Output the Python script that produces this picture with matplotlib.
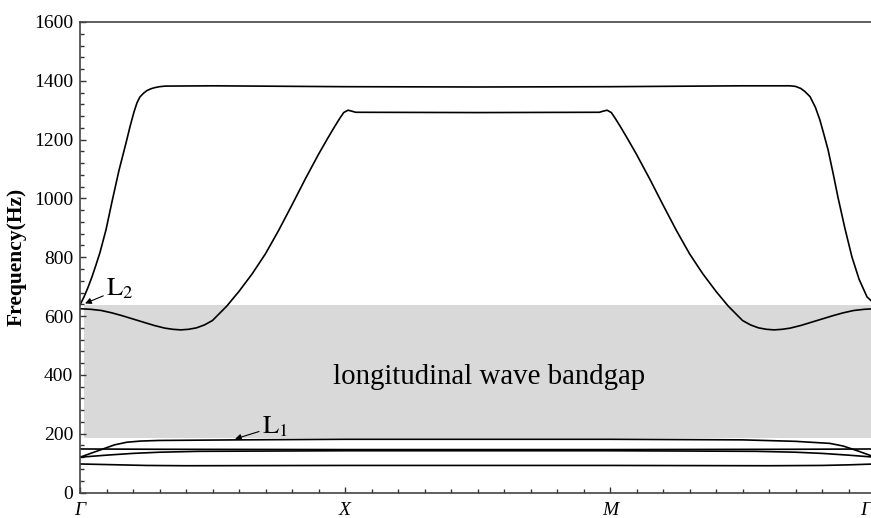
import matplotlib
matplotlib.use("Agg")
import matplotlib.pyplot as plt
import matplotlib.transforms as mtransforms
from matplotlib.ticker import MultipleLocator

plt.rcParams['font.family'] = ['Liberation Serif', 'DejaVu Serif']
plt.rcParams['mathtext.fontset'] = 'stix'

# ---------------- data ----------------
k_labels = ["Γ", "X", "M", "Γ"]
k_positions = [0, 1, 2, 3]

gap_low = 185
gap_high = 636
gap_text = "longitudinal wave bandgap"

band1_x = [0, 0.015, 0.03, 0.045, 0.06, 0.075, 0.098, 0.121, 0.147, 0.174, 0.189, 0.204,
           0.215, 0.226, 0.24, 0.253, 0.268, 0.283, 0.3, 0.321,
           0.5, 1.0, 1.5, 2.0, 2.5,
           2.68, 2.70, 2.72, 2.735, 2.755, 2.775, 2.792, 2.808, 2.823, 2.842, 2.86,
           2.886, 2.913, 2.94, 2.97, 3.0]
band1_y = [638, 665, 697, 733, 773, 815, 893, 990, 1095, 1190, 1245, 1295,
           1325, 1345, 1358, 1367, 1373, 1377, 1380, 1382,
           1383, 1380, 1379, 1380, 1383,
           1383, 1381, 1374, 1364, 1346, 1310, 1267, 1215, 1165, 1085, 1005,
           900, 801, 725, 665, 640]

band2_x = [0, 0.04, 0.08, 0.12, 0.16, 0.2, 0.24, 0.28, 0.32, 0.35, 0.38, 0.41, 0.44,
           0.47, 0.50, 0.554, 0.60, 0.65, 0.70, 0.75, 0.80, 0.85, 0.90, 0.935, 0.96,
           0.98, 0.995, 1.011, 1.025, 1.04,
           1.5,
           1.96, 1.975, 1.989, 2.005, 2.02, 2.04, 2.065, 2.10, 2.15, 2.20, 2.25, 2.30,
           2.35, 2.40, 2.446, 2.50, 2.53, 2.56, 2.59, 2.62, 2.65, 2.68, 2.72, 2.76,
           2.80, 2.84, 2.88, 2.92, 2.96, 3.0]
band2_y = [625, 623, 619, 611, 601, 590, 579, 568, 559, 555, 553, 555, 560,
           570, 585, 634, 684, 744, 812, 892, 978, 1066, 1150, 1205, 1243,
           1272, 1292, 1300, 1297, 1293,
           1292,
           1293, 1297, 1300, 1292, 1272, 1243, 1205, 1150, 1066, 978, 892, 812,
           744, 684, 634, 585, 570, 560, 555, 553, 555, 559, 568, 579,
           590, 601, 611, 619, 623, 625]

# low-frequency bands
low1_x = [0, 0.1, 0.25, 0.4, 1.0, 2.0, 2.6, 2.8, 2.9, 3.0]
low1_y = [97, 95, 92, 91, 92, 92, 91, 92, 94, 97]

low2_x = [0, 0.1, 0.2, 0.3, 0.45, 1.0, 2.0, 2.55, 2.7, 2.8, 2.9, 3.0]
low2_y = [120, 127, 133, 137, 140, 142, 142, 140, 137, 133, 127, 120]

low3_x = [0, 0.3, 1.0, 2.0, 2.7, 3.0]
low3_y = [148, 147, 146, 146, 147, 148]

low4_x = [0, 0.04, 0.087, 0.13, 0.177, 0.23, 0.3, 0.6, 1.0, 2.0, 2.5, 2.7, 2.83, 2.88,
          2.93, 2.97, 3.0]
low4_y = [120, 133, 148, 162, 171, 175, 177, 179, 181, 181, 179, 174, 167, 158,
          143, 130, 120]

bands_x = [band1_x, band2_x, low1_x, low2_x, low3_x, low4_x]
bands_y = [band1_y, band2_y, low1_y, low2_y, low3_y, low4_y]

# ---------------- figure ----------------
fig = plt.figure(figsize=(8.71, 5.18), dpi=100)
ax = fig.add_axes([80 / 871, 25.5 / 518, 795 / 871, 470.5 / 518])

ax.fill_between([0.015, 3], gap_low, gap_high, color='#d9d9d9', lw=0, zorder=0)

for bx, by in zip(bands_x, bands_y):
    ax.plot(bx, by, color='black', lw=1.2, zorder=2, solid_joinstyle='round')

ax.text(1.543, 393, gap_text, fontsize=20.8, ha='center', va='center', zorder=3)

arrow = dict(arrowstyle='-|>', color='black', lw=0.8, mutation_scale=9,
             shrinkA=0, shrinkB=0)
ax.annotate(r"$\mathrm{L}_2$", xy=(0.019, 643), xytext=(0.15, 692),
            fontsize=19, ha='center', va='center', arrowprops=arrow, zorder=4)
ax.annotate(r"$\mathrm{L}_1$", xy=(0.585, 182), xytext=(0.735, 224),
            fontsize=19, ha='center', va='center', arrowprops=arrow, zorder=4)

ax.set_xlim(0, 3)
ax.set_ylim(0, 1600)
ax.set_xticks(k_positions)
ax.set_xticklabels(k_labels, fontstyle='italic', fontsize=15)
ax.xaxis.set_minor_locator(MultipleLocator(0.1))
ax.yaxis.set_major_locator(MultipleLocator(200))
ax.yaxis.set_minor_locator(MultipleLocator(40))
ax.tick_params(axis='both', which='both', direction='in', top=False, right=False,
               color='#333333', width=1.0)
ax.tick_params(axis='both', which='major', length=4, labelsize=14, pad=5)
ax.tick_params(axis='both', which='minor', length=3)
ax.tick_params(axis='x', which='major', pad=7)
for s in ax.spines.values():
    s.set_color('#444444')
    s.set_linewidth(1.2)

# nudge the last Γ label left so that it stays inside the picture
last = ax.get_xticklabels()[-1]
last.set_transform(last.get_transform() +
                   mtransforms.ScaledTranslation(-9 / 100, 0, fig.dpi_scale_trans))

ax.set_ylabel("Frequency(Hz)", fontsize=15.5, fontweight='bold', labelpad=5)

fig.savefig("out.png", dpi=100)
